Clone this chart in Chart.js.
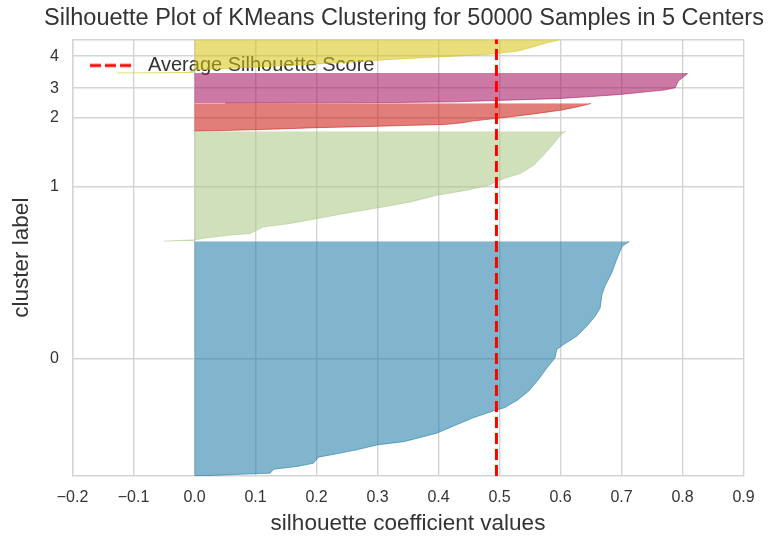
<!DOCTYPE html>
<html>
<head>
<meta charset="utf-8">
<script src="https://cdn.jsdelivr.net/npm/chart.js@4.4.1/dist/chart.umd.min.js"></script>
<style>
  html, body { margin: 0; padding: 0; background: #ffffff; }
  #wrap { width: 779px; height: 543px; }
</style>
</head>
<body>
<div id="wrap"><canvas id="chart" width="779" height="543"></canvas></div>
<script>
// ---- data ----
const chartTitle = 'Silhouette Plot of KMeans Clustering for 50000 Samples in 5 Centers';
const clusterLabels = ['0', '1', '2', '3', '4'];
const clusterSizes = [26900, 12600, 3200, 3450, 3850];
const averageScore = 0.495;
const xTickMin = -0.2;
const xTickMax = 0.9;
const xTickStep = 0.1;

// sorted silhouette coefficients of each cluster, sampled at ranks within the cluster
const ranks0 = [0, 110, 190, 310, 770, 1080, 1450, 2150, 2530, 2990, 3550, 3930, 4490, 4900, 5730, 6670, 7450, 7830, 8770, 9740, 11060, 12400, 13530, 14500, 15060, 16030, 17160, 18320, 19260, 20790, 21760, 23270, 24800, 26330, 26790, 26899];
const values0 = [0.000, 0.050, 0.075, 0.124, 0.130, 0.168, 0.195, 0.203, 0.233, 0.266, 0.299, 0.343, 0.375, 0.397, 0.425, 0.457, 0.490, 0.509, 0.531, 0.548, 0.564, 0.578, 0.591, 0.594, 0.605, 0.627, 0.643, 0.657, 0.665, 0.668, 0.673, 0.684, 0.692, 0.701, 0.711, 0.712];

const ranks1 = [0, 76, 151, 378, 693, 882, 1638, 2028, 2595, 3288, 3931, 4498, 5266, 5846, 6413, 7181, 7748, 8706, 9852, 11188, 12347, 12599];
const values1 = [-0.050, -0.025, 0.000, 0.020, 0.058, 0.091, 0.113, 0.157, 0.201, 0.255, 0.310, 0.354, 0.397, 0.447, 0.482, 0.507, 0.534, 0.556, 0.572, 0.589, 0.602, 0.609];

const ranks2 = [0, 96, 256, 400, 544, 640, 768, 960, 1152, 1504, 1919, 2399, 2751, 3071, 3199];
const values2 = [0.000, 0.060, 0.140, 0.200, 0.290, 0.340, 0.410, 0.440, 0.455, 0.500, 0.550, 0.600, 0.625, 0.645, 0.650];

const ranks3 = [0, 34, 69, 114, 148, 310, 424, 542, 724, 1000, 1380, 1510, 1759, 2528, 3104, 3277, 3449];
const values3 = [0.050, 0.200, 0.330, 0.370, 0.425, 0.496, 0.551, 0.600, 0.643, 0.698, 0.752, 0.770, 0.788, 0.793, 0.803, 0.807, 0.808];

const ranks4 = [0, 23, 46, 346, 577, 924, 1270, 1501, 1732, 1925, 2117, 2502, 2887, 3464, 3772, 3849];
const values4 = [-0.127, -0.060, -0.010, 0.000, 0.070, 0.170, 0.260, 0.310, 0.370, 0.425, 0.479, 0.529, 0.550, 0.578, 0.597, 0.600];

const clusterRanks = [ranks0, ranks1, ranks2, ranks3, ranks4];
const clusterValues = [values0, values1, values2, values3, values4];
const clusterColors = [
  'rgba(24, 120, 164, 0.55)',
  'rgba(168, 198, 132, 0.55)',
  'rgba(202, 20, 11, 0.55)',
  'rgba(164, 11, 91, 0.55)',
  'rgba(213, 195, 17, 0.55)'
];

// ---- layout of the stacked clusters (10 empty samples between clusters) ----
const gapSamples = 10;
const yLowers = [];
const tickPositions = [];
let yLower = gapSamples;
clusterSizes.forEach((size) => {
  yLowers.push(yLower);
  tickPositions.push(yLower + 0.5 * size);
  yLower = yLower + size + gapSamples;
});
const yMax = clusterSizes.reduce((a, b) => a + b, 0) + gapSamples * (clusterSizes.length + 1);

const clusterDatasets = clusterValues.map((vals, c) => ({
  label: 'cluster ' + clusterLabels[c],
  data: vals.map((v, i) => ({ x: v, y: yLowers[c] + clusterRanks[c][i] })),
  backgroundColor: clusterColors[c],
  borderColor: clusterColors[c],
  borderWidth: 1,
  pointRadius: 0,
  tension: 0,
  fill: 'origin',
  order: 1
}));

const gridColor = '#d4d4d4';
const textColor = '#333333';
const fontFamily = '"Liberation Sans", Arial, sans-serif';

// legend handle: short red dashed stroke
const handle = document.createElement('canvas');
handle.width = 48;
handle.height = 6;
(function () {
  const g = handle.getContext('2d');
  g.strokeStyle = '#ff0000';
  g.lineWidth = 3;
  g.setLineDash([11, 4]);
  g.beginPath();
  g.moveTo(0, 3);
  g.lineTo(41, 3);
  g.stroke();
})();

// keep the legend anchored inside the plot area, top-left
const legendInPlot = {
  id: 'legendInPlot',
  afterLayout(chart) {
    const lg = chart.legend;
    if (!lg) return;
    const area = chart.chartArea;
    lg.left = area.left;
    lg.top = area.top - 1.3;
    lg.right = area.right;
    lg.bottom = lg.top + lg.height;
  }
};

// title centred over the plot, allowed to run wider than the plot itself
const plotTitle = {
  id: 'plotTitle',
  afterDraw(chart) {
    const ctx = chart.ctx;
    const area = chart.chartArea;
    ctx.save();
    ctx.font = '23.5px ' + fontFamily;
    ctx.fillStyle = textColor;
    ctx.textAlign = 'center';
    ctx.textBaseline = 'middle';
    ctx.fillText(chartTitle, (area.left + area.right) / 2 - 4, 19);
    ctx.restore();
  }
};

new Chart(document.getElementById('chart'), {
  type: 'line',
  data: {
    datasets: [{
      label: 'Average Silhouette Score',
      data: [{ x: averageScore, y: 0 }, { x: averageScore, y: yMax }],
      borderColor: '#ff0000',
      borderWidth: 3,
      borderDash: [11, 5],
      pointRadius: 0,
      fill: false,
      order: 0
    }].concat(clusterDatasets)
  },
  plugins: [legendInPlot, plotTitle],
  options: {
    indexAxis: 'y',
    responsive: false,
    animation: false,
    devicePixelRatio: 1,
    layout: { padding: { left: 0, right: 35.5, top: 0, bottom: 0 } },
    plugins: {
      tooltip: { enabled: false },
      title: { display: false },
      legend: {
        position: 'chartArea',
        align: 'start',
        labels: {
          filter: (item) => item.datasetIndex === 0,
          usePointStyle: true,
          pointStyle: handle,
          pointStyleWidth: 48,
          padding: 17.5,
          color: textColor,
          font: { family: fontFamily, size: 20 }
        }
      }
    },
    scales: {
      x: {
        type: 'linear',
        position: 'bottom',
        min: xTickMin,
        max: xTickMax,
        ticks: {
          stepSize: xTickStep,
          padding: 12,
          color: textColor,
          font: { family: fontFamily, size: 16 },
          callback: (v) => Number(v).toFixed(1).replace('-', '\u2212')
        },
        grid: { color: gridColor, lineWidth: 1.4, drawTicks: false },
        border: { display: true, color: gridColor, width: 1.4 },
        title: {
          display: true,
          text: 'silhouette coefficient values',
          color: textColor,
          font: { family: fontFamily, size: 22.5 },
          padding: { top: 0, bottom: 5.5 }
        },
        afterFit: (s) => { s.height = 67; }
      },
      xTop: {
        type: 'linear',
        position: 'top',
        min: xTickMin,
        max: xTickMax,
        ticks: { display: false },
        grid: { display: false, drawTicks: false },
        border: { display: true, color: gridColor, width: 1.4 },
        afterFit: (s) => { s.height = 39.3; }
      },
      y: {
        type: 'linear',
        min: 0,
        max: yMax,
        afterBuildTicks: (s) => { s.ticks = tickPositions.map((p) => ({ value: p })); },
        ticks: {
          autoSkip: false,
          padding: 13.5,
          color: textColor,
          font: { family: fontFamily, size: 16 },
          callback: (v, i) => clusterLabels[i]
        },
        grid: { color: gridColor, lineWidth: 1.4, drawTicks: false },
        border: { display: true, color: gridColor, width: 1.4 },
        title: {
          display: true,
          text: 'cluster label',
          color: textColor,
          font: { family: fontFamily, size: 22.5 },
          padding: { top: 8.5, bottom: 0 }
        },
        afterFit: (s) => { s.width = 72.5; }
      }
    }
  }
});
</script>
</body>
</html>
